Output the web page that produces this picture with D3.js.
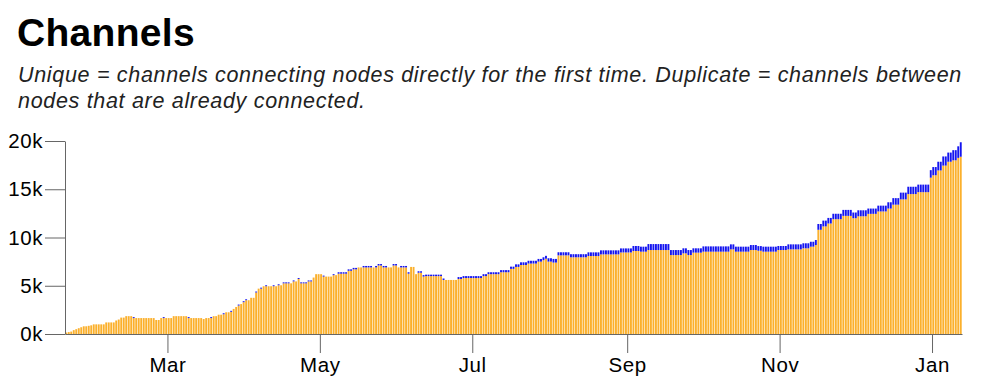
<!DOCTYPE html>
<html>
<head>
<meta charset="utf-8">
<script src="https://cdn.jsdelivr.net/npm/d3@7"></script>
<style>
  body { margin: 0; background: #fff; font-family: "Liberation Sans", Arial, Helvetica, sans-serif; }
  .axis text { font-size: 20.5px; letter-spacing: 0.6px; fill: #000; font-family: "Liberation Sans", Arial, sans-serif; }
  .axis path, .axis line { stroke: #666; }
</style>
</head>
<body>
<div id="chart"></div>
<script>
// Data: one value per day, starting 19 Jan 2018
const startDate = new Date(2018, 0, 19);
const endDate = new Date(2019, 0, 13);

const unique = [
  150,200,250,400,500,600,700,800,800,850,900,
  1000,1000,1000,1000,1000,
  1200,1200,1200,1200,
  1400,1500,1700,1700,
  1850,1850,1850,
  1650,1650,1650,1650,1650,1650,1650,1650,1650,
  1450,1450,
  1650,1650,1650,1650,1650,
  1850,1850,1850,1850,1850,1850,
  1650,1650,1650,1650,1650,1650,
  1550,
  1650,1650,1650,
  1850,1850,
  2000,2000,
  2050,
  2250,2250,
  2300,2600,2800,2950,3100,3300,
  3500,3500,
  3750,3750,
  4300,
  4700,4700,
  4950,4950,4950,4950,4950,4950,
  5050,5050,
  5250,5250,5250,5250,
  5450,5450,
  5700,
  5250,5250,5250,
  5450,5450,
  5850,
  6200,6200,6200,
  5950,5950,5950,5950,
  6100,6100,
  6250,6250,6250,6250,
  6550,6550,
  6700,6700,
  6900,6900,6900,6900,6900,6900,
  6900,6900,
  7100,7100,
  6900,6900,6900,6900,
  7100,7100,
  6900,6900,6900,6900,
  6250,
  6950,6950,
  6200,
  6350,6350,
  5950,
  6000,6000,6000,6000,6000,6000,6000,
  5600,5600,5600,5600,5600,5600,
  5700,5700,
  5800,5800,5800,5800,5800,5800,5800,5800,
  6000,6000,
  6200,6200,6200,6200,6200,
  6400,6400,6400,6400,
  6750,6750,
  6950,6950,
  7150,7150,7150,
  7300,7300,7300,7300,
  7500,7500,
  7650,7800,
  7500,7500,
  7400,7400,
  8150,8150,8150,8150,8150,
  7950,7950,7950,7950,7950,7950,7950,
  8080,8080,8080,8080,8080,
  8250,8250,8250,8250,8250,8250,8250,8250,
  8450,8450,8450,8450,8450,
  8600,8600,8600,
  8530,8530,8530,
  8700,8700,8700,8700,8700,8700,8700,8700,8700,
  8180,8180,8180,8180,8180,
  8360,8360,
  8180,8180,
  8430,8430,8430,8430,
  8530,8530,8530,8530,8530,8530,8530,8530,8530,8530,8530,
  8770,8770,
  8530,8530,8530,8530,8530,8530,
  8700,8700,8700,
  8630,8630,
  8530,8530,8530,8530,8530,8530,
  8700,8700,8700,8700,
  8770,8770,8770,8770,8770,8770,
  8880,8880,8880,
  9050,9050,
  9220,
  10800,10800,
  11150,11150,
  11450,11450,
  11900,11900,11900,11900,
  12240,12240,12240,12240,
  12000,12000,
  12200,12200,12200,12200,
  12450,12450,12450,12450,
  12700,12700,12700,12700,
  13000,13000,
  13400,13400,13400,
  13950,13950,13950,
  14500,14500,14500,14500,
  14700,14700,14700,14700,14700,
  16200,
  16450,16450,
  16950,16950,
  17450,17450,
  17850,17850,
  18000,18000,
  18250,
  18370
];

const duplicate = [
  0,0,0,0,0,0,0,0,0,0,0,0,0,0,0,0,0,0,0,0,0,0,0,0,0,0,0,
  100,
  0,0,0,0,0,0,0,0,0,0,0,
  100,
  0,0,0,0,0,0,0,0,0,
  100,
  0,0,0,0,0,0,0,0,
  100,
  0,0,0,0,
  100,
  0,0,
  100,
  0,0,
  100,
  0,
  100,100,
  0,0,0,
  100,
  0,
  100,
  0,
  100,
  0,0,
  100,
  0,
  100,
  0,
  100,100,100,
  0,
  100,
  0,
  100,
  100,100,100,100,100,
  0,0,0,0,
  100,
  0,0,0,
  100,
  0,
  150,150,150,150,
  150,150,
  150,150,
  0,0,
  150,150,150,150,
  0,150,
  150,150,
  150,150,
  0,0,
  150,150,
  0,
  150,150,150,
  150,
  0,0,
  0,
  150,150,
  150,
  150,150,150,150,150,150,150,
  150,
  0,0,0,0,0,
  200,200,
  200,200,200,200,200,200,200,200,
  200,200,
  200,200,200,200,200,
  220,220,220,220,
  230,230,
  270,270,
  280,280,280,
  290,290,290,290,
  280,280,
  300,300,
  350,350,
  380,380,
  320,320,320,320,320,
  320,320,320,320,320,320,320,
  380,380,380,380,380,
  420,420,420,420,420,420,420,420,
  420,420,420,420,420,
  520,520,520,
  520,520,520,
  620,620,620,620,620,620,620,620,620,
  520,520,520,520,520,
  520,520,
  520,520,
  450,450,450,450,
  550,550,550,550,550,550,550,550,550,550,550,
  520,520,
  520,520,520,520,520,520,
  520,520,520,
  480,480,
  520,520,520,520,520,520,
  420,420,420,420,
  520,520,520,520,520,520,
  520,520,520,
  510,510,
  520,
  600,600,
  600,600,
  580,580,
  560,560,560,560,
  620,620,620,620,
  590,590,
  620,620,620,620,
  550,550,550,550,
  600,600,600,600,
  650,650,
  680,680,680,
  700,700,700,
  760,760,760,760,
  780,780,780,780,780,
  780,
  850,850,
  900,900,
  950,950,
  950,950,
  1050,1050,
  1200,
  1500
];

const yTicks = [0, 5000, 10000, 15000, 20000];
const seriesKeys = ['unique', 'duplicate'];
const seriesColors = {unique: '#fbb02c', duplicate: '#1414f0'};

const title = 'Channels';
const subtitleLines = [
  'Unique = channels connecting nodes directly for the first time. Duplicate = channels between',
  'nodes that are already connected.'
];

// Layout
const W = 984, H = 382;
const plot = {left: 65, right: 962, top: 141, bottom: 334};

const svg = d3.select('#chart')
  .append('svg')
  .attr('width', W)
  .attr('height', H);

svg.append('text')
  .attr('x', 17)
  .attr('y', 46)
  .style('font-size', '39px')
  .style('font-weight', 'bold')
  .style('letter-spacing', '0.3px')
  .text(title);

const subs = svg.selectAll('.subtitle')
  .data(subtitleLines)
  .enter()
  .append('text')
  .attr('class', 'subtitle')
  .attr('x', 18)
  .attr('y', (d, i) => 82 + i * 25.5)
  .style('font-size', '21.5px')
  .style('font-style', 'italic')
  .style('fill', '#222')
  .text(d => d);

// widen the subtitle so the first line spans the same width as the original
const firstLen = subs.node().getComputedTextLength();
const spacing = (944 - firstLen) / subtitleLines[0].length;
subs.style('letter-spacing', spacing + 'px');

// Rows for the stack
const rows = unique.map((u, i) => ({
  date: d3.timeDay.offset(startDate, i),
  unique: u,
  duplicate: duplicate[i] || 0
}));

const x = d3.scaleTime()
  .domain([startDate, endDate])
  .range([plot.left, plot.right]);

const y = d3.scaleLinear()
  .domain([0, 20000])
  .range([plot.bottom, plot.top]);

const stacked = d3.stack().keys(seriesKeys)(rows);

const gap = 0.6;
svg.append('g')
  .selectAll('g')
  .data(stacked)
  .enter()
  .append('g')
  .attr('fill', d => seriesColors[d.key])
  .selectAll('rect')
  .data(d => d)
  .enter()
  .append('rect')
  .attr('x', d => x(d.data.date) + gap / 2)
  .attr('width', d => x(d3.timeDay.offset(d.data.date, 1)) - x(d.data.date) - gap)
  .attr('y', d => y(d[1]))
  .attr('height', d => y(d[0]) - y(d[1]));

// Axes
svg.append('g')
  .attr('class', 'axis x-axis')
  .attr('transform', `translate(0,${plot.bottom})`)
  .call(d3.axisBottom(x)
    .ticks(d3.timeMonth.every(2))
    .tickFormat(d3.timeFormat('%b'))
    .tickSize(19)
    .tickSizeOuter(0)
    .tickPadding(4));

svg.append('g')
  .attr('class', 'axis y-axis')
  .attr('transform', `translate(${plot.left},0)`)
  .call(d3.axisLeft(y)
    .tickValues(yTicks)
    .tickFormat(d => (d / 1000) + 'k')
    .tickSize(20)
    .tickSizeOuter(0)
    .tickPadding(2));

svg.selectAll('.axis .domain').attr('stroke', '#333');
</script>
</body>
</html>
